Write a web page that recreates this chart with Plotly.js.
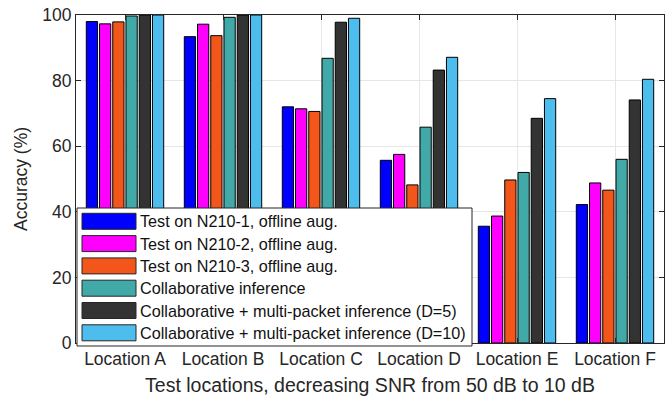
<!DOCTYPE html>
<html>
<head>
<meta charset="utf-8">
<script src="https://cdn.plot.ly/plotly-3.0.1.min.js"></script>
<style>
  html, body { margin: 0; padding: 0; background: #ffffff; }
  #chart { width: 667px; height: 400px; }
</style>
</head>
<body>
<div id="chart"></div>
<script>
// Test locations (x categories)
const locations = ["Location A", "Location B", "Location C", "Location D", "Location E", "Location F"];

// Accuracy (%) per location for each evaluation setting
const seriesNames = [
  "Test on N210-1, offline aug.",
  "Test on N210-2, offline aug.",
  "Test on N210-3, offline aug.",
  "Collaborative inference",
  "Collaborative + multi-packet inference (D=5)",
  "Collaborative + multi-packet inference (D=10)"
];
const n2101 = [98.0, 93.4, 72.0, 55.7, 35.6, 42.2];
const n2102 = [97.3, 97.2, 71.4, 57.5, 38.7, 48.8];
const n2103 = [97.9, 93.7, 70.6, 48.2, 49.7, 46.6];
const collab = [99.7, 99.3, 86.8, 65.8, 52.0, 56.0];
const multiD5 = [100, 100, 97.8, 83.2, 68.5, 74.1];
const multiD10 = [100, 100, 99.0, 87.1, 74.5, 80.4];
const yTicks = [0, 20, 40, 60, 80, 100];

const seriesValues = [n2101, n2102, n2103, collab, multiD5, multiD10];
const seriesColors = ["#0000ff", "#ff00ff", "#f2561b", "#42a9a9", "#333333", "#4dbdee"];

const FONT = "Liberation Sans, Arial, Helvetica, sans-serif";
const INK = "#262626";

const traces = seriesValues.map((vals, i) => ({
  type: "bar",
  name: seriesNames[i],
  x: locations,
  y: vals,
  marker: { color: seriesColors[i], line: { color: "#000000", width: 1 } },
  showlegend: false,
  hoverinfo: "skip"
}));

// Legend box drawn in paper coordinates (plot area: 588 x 328 px)
const plotW = 588, plotH = 328;
const px = v => v / plotW;          // pixels from the plot's left edge -> paper x
const py = v => 1 - v / plotH;      // pixels from the plot's top edge -> paper y

const shapes = [{
  type: "rect", xref: "paper", yref: "paper", layer: "above",
  x0: px(1), x1: px(396), y0: py(193), y1: py(331),
  fillcolor: "#ffffff", line: { color: INK, width: 1 }
}];
const annotations = [];
const rowTop = 206.3, rowStep = 22.3;
seriesNames.forEach((name, i) => {
  const cy = rowTop + i * rowStep;
  shapes.push({
    type: "rect", xref: "paper", yref: "paper", layer: "above",
    x0: px(6), x1: px(60), y0: py(cy - 8), y1: py(cy + 8),
    fillcolor: seriesColors[i], line: { color: INK, width: 1 }
  });
  annotations.push({
    xref: "paper", yref: "paper", x: px(62), y: py(cy),
    xanchor: "left", yanchor: "middle", showarrow: false,
    text: name, font: { family: FONT, size: 16.2, color: "#111111" }
  });
});

const layout = {
  width: 667, height: 400,
  margin: { l: 76, r: 3, t: 15, b: 57 },
  paper_bgcolor: "#ffffff", plot_bgcolor: "#ffffff",
  barmode: "group", bargap: 0.19, bargroupgap: 0.15,
  font: { family: FONT, color: INK },
  xaxis: {
    type: "category",
    range: [-0.5, 5.5],
    showline: true, linecolor: INK, linewidth: 1, mirror: "allticks",
    ticks: "inside", ticklen: 5, tickcolor: INK,
    showgrid: true, gridcolor: "#e6e6e6", gridwidth: 1,
    tickfont: { size: 17.5, color: INK, family: FONT },
    title: { text: "Test locations, decreasing SNR from 50 dB to 10 dB",
             font: { size: 19.5, color: INK, family: FONT }, standoff: 10 },
    fixedrange: true
  },
  yaxis: {
    range: [0, 100],
    tickvals: yTicks,
    showline: true, linecolor: INK, linewidth: 1, mirror: "allticks",
    ticks: "inside", ticklen: 5, tickcolor: INK,
    showgrid: true, gridcolor: "#e6e6e6", gridwidth: 1,
    zeroline: false,
    tickfont: { size: 17.5, color: INK, family: FONT },
    title: { text: "Accuracy (%)", font: { size: 17.5, color: INK, family: FONT }, standoff: 10 },
    fixedrange: true
  },
  shapes: shapes,
  annotations: annotations
};

Plotly.newPlot("chart", traces, layout, { staticPlot: true, displayModeBar: false });
</script>
</body>
</html>
